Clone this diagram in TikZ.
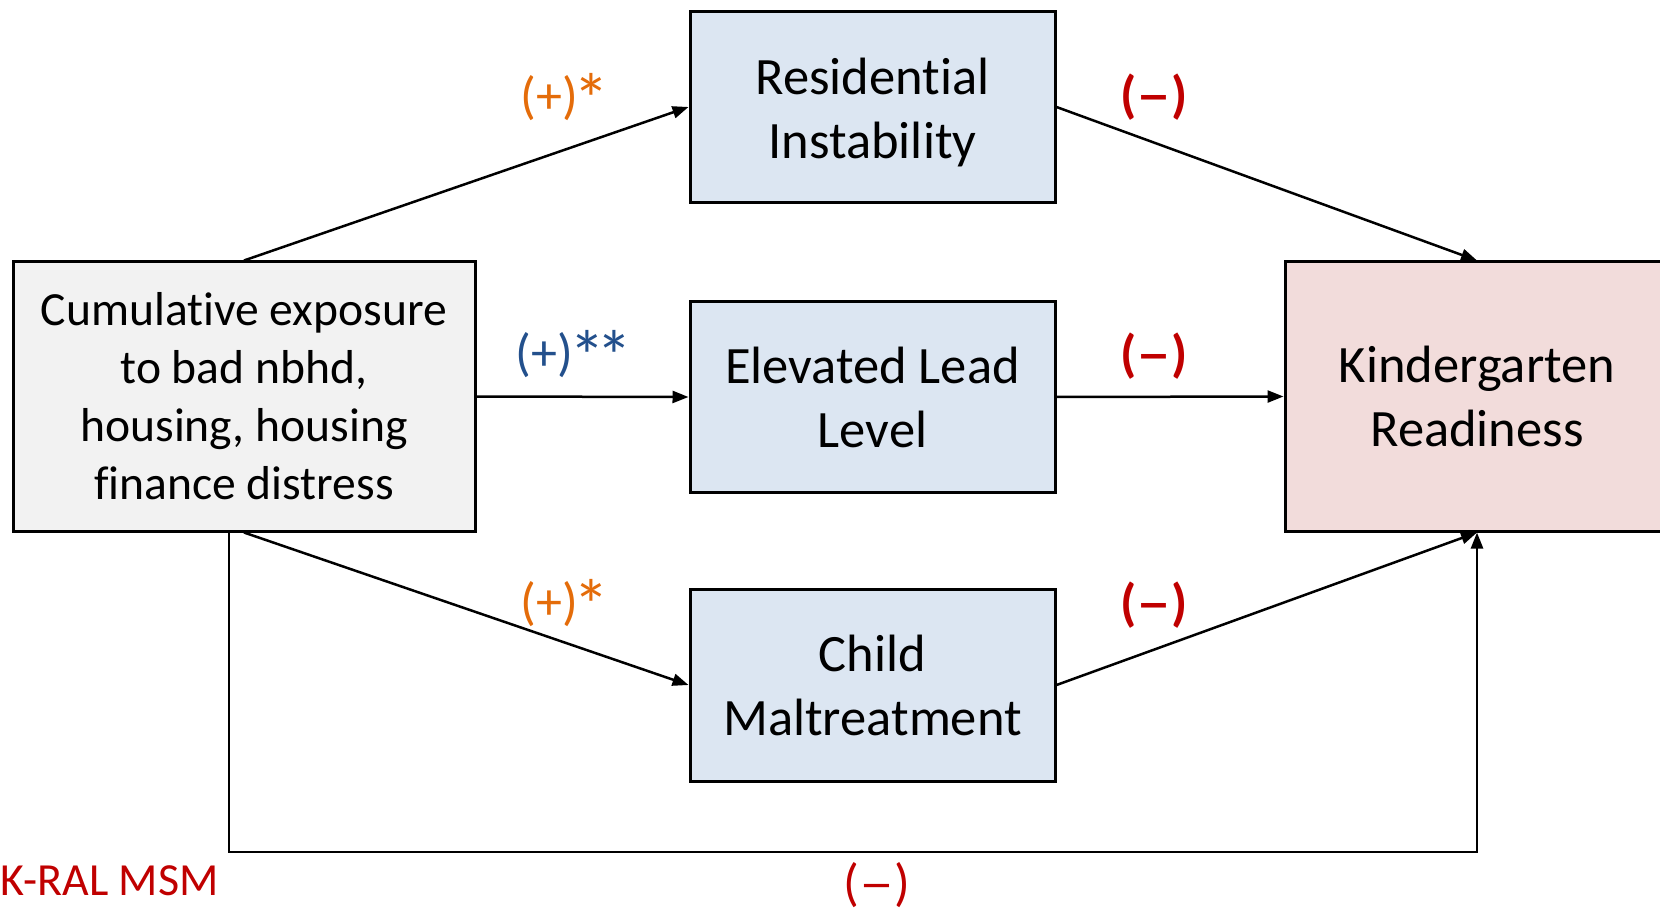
\documentclass[tikz,border=0pt]{standalone}
\usepackage{fontspec}
\setmainfont[Ligatures=NoCommon]{Carlito}
\usetikzlibrary{arrows.meta}
\definecolor{orng}{RGB}{228,108,10}
\definecolor{dred}{RGB}{192,0,0}
\definecolor{dblue}{RGB}{35,80,140}
\definecolor{grayfill}{RGB}{242,242,242}
\definecolor{bluefill}{RGB}{220,230,242}
\definecolor{pinkfill}{RGB}{242,220,219}
\newcommand\bigstr{\raisebox{-11pt}{\fontsize{72}{72}\selectfont *}}
\newcommand\wdash{\scalebox{1.35}[1]{–}}
\begin{document}
\begin{tikzpicture}[x=1pt,y=-1pt,
  box/.style={draw, line width=3pt, inner sep=0pt, align=center, font=\fontsize{52.5}{64}\selectfont},
  boxtext/.style={inner sep=0pt, align=center, font=\fontsize{52.5}{64}\selectfont},
  arr/.style={line width=2.5pt, -{Triangle[length=16pt,width=12pt]}},
  lbl/.style={inner sep=0pt, font=\fontsize{52}{60}\selectfont},
  neg/.style={inner sep=0pt, text=dred, font=\fontsize{52}{60}\selectfont\bfseries}]
\useasboundingbox (0,0) rectangle (1660,909);
\node[box, fill=grayfill, minimum width=462pt, minimum height=269pt, font=\fontsize{47.6}{58}\selectfont] (left) at (244,396.5) {Cumulative exposure\\to bad nbhd,\\housing, housing\\finance distress};
\node[box, fill=bluefill, minimum width=365pt, minimum height=191pt] (res) at (872.5,107) {};
\node[boxtext] (restext) at (872.5,113) {Residential\\Instability};
\node[box, fill=bluefill, minimum width=365pt, minimum height=191pt] (elev) at (872.5,397) {Elevated Lead\\Level};
\node[box, fill=bluefill, minimum width=365pt, minimum height=192pt] (child) at (872.5,685) {Child\\Maltreatment};
\node[box, fill=pinkfill, minimum width=384pt, minimum height=269pt] (kg) at (1477,396.5) {Kindergarten\\Readiness};
\coordinate (c1) at (229,852);
\draw[arr] (left.north) -- (res.west);
\draw[arr] (res.east) -- (kg.north);
\draw[arr] (left.east) -- (elev.west);
\draw[arr] (elev.east) -- (kg.west);
\draw[arr] (left.south) -- (child.west);
\draw[arr] (child.east) -- (kg.south);
\draw[arr] (left.south -| c1) -- (c1) -| (kg.south);
\node[lbl, text=orng] (l1) at (565,99) {(+)\kern-4pt\bigstr};
\node[neg] (l2) at (1154,97) {(\wdash)};
\node[lbl, text=dblue] (l3) at (574,356) {(+)\kern-4pt\bigstr\kern-9pt\bigstr};
\node[neg] (l4) at (1154,356) {(\wdash)};
\node[lbl, text=orng] (l5) at (565,605) {(+)\kern-4pt\bigstr};
\node[neg] (l6) at (1154,605) {(\wdash)};
\node[lbl, text=dred] (l7) at (877,885) {(\wdash)};
\node[lbl, text=dred, anchor=west, font=\fontsize{46}{55}\selectfont] (kral) at (0,881) {K-RAL MSM};
\end{tikzpicture}
\end{document}
